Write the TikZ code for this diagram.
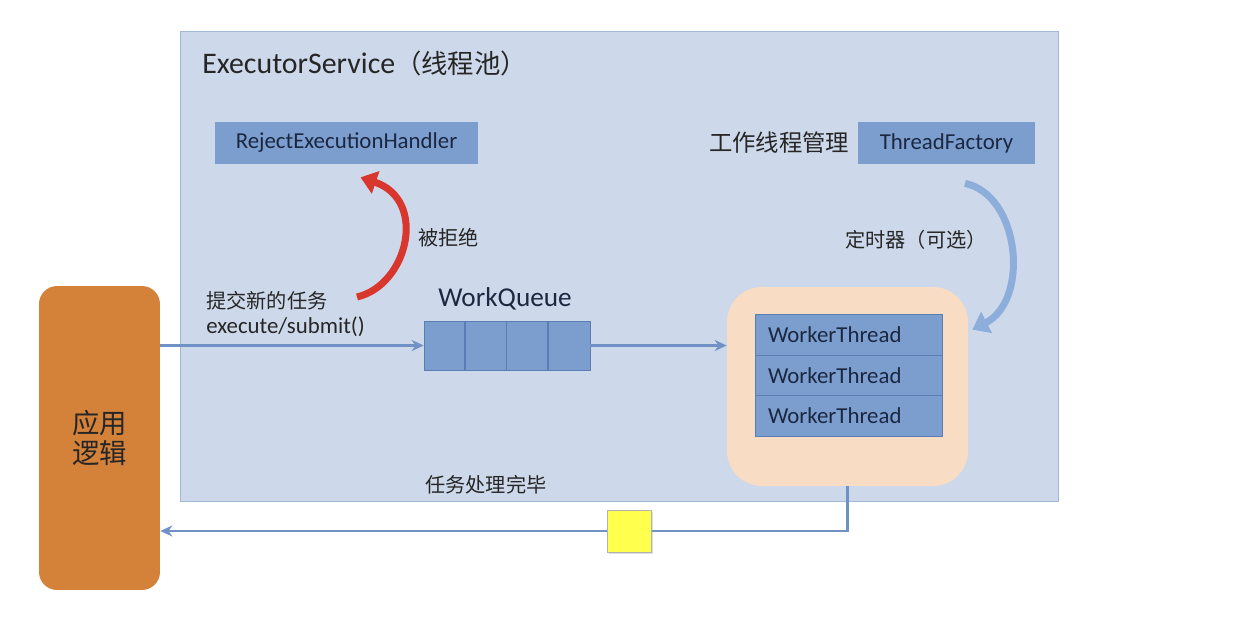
\documentclass[tikz,border=0pt]{standalone}
\usepackage{fontspec}
\setmainfont{Carlito}
\newfontfamily\cjk{Noto Sans CJK SC}
\usetikzlibrary{positioning,arrows.meta,shadows}
\definecolor{poolbg}{HTML}{CDD9EA}
\definecolor{poolline}{HTML}{A3B8D6}
\definecolor{boxblue}{HTML}{7B9ECF}
\definecolor{boxline}{HTML}{5A7DB3}
\definecolor{boxtext}{HTML}{1C2740}
\definecolor{flowblue}{HTML}{6F91C6}
\definecolor{peach}{HTML}{F9DCC4}
\definecolor{apporange}{HTML}{D4823A}
\definecolor{rejred}{HTML}{D9362E}
\definecolor{factblue}{HTML}{8DAEDB}
\definecolor{token}{HTML}{FFFF4D}
\definecolor{label}{HTML}{262626}

\begin{document}
\begin{tikzpicture}[x=0.02cm,y=-0.02cm,
  box/.style={fill=boxblue,text=boxtext,inner sep=0pt,font=\fontsize{13}{15}\selectfont},
  worker/.style={box,draw=boxline,minimum width=3.74cm,minimum height=0.814cm,
    text width=3.22cm,align=left,inner xsep=0.26cm},
  flow/.style={draw=flowblue,line width=1.3pt},
  note/.style={text=label,inner sep=0pt,font=\fontsize{11.5}{14}\selectfont\cjk},
  curlarrow/.style={line width=4pt,-{Triangle[width=0.46cm,length=0.32cm]}}]
\useasboundingbox (0,0) rectangle (1234,626);

% thread pool frame
\node[fill=poolbg,draw=poolline,line width=0.8pt,minimum width=17.56cm,minimum height=9.4cm,
  anchor=north west] (service) at (180,31) {};
\node[anchor=west,text=label,inner sep=0pt,font=\fontsize{17}{20}\selectfont] (title) at (202,63)
  {ExecutorService{\cjk\fontsize{15}{20}\selectfont（线程池）}};

\node[box,minimum width=5.26cm,minimum height=0.84cm] (reject) at (346.5,143) {RejectExecutionHandler};
\node[box,minimum width=3.54cm,minimum height=0.84cm] (factory) at (946.5,143) {ThreadFactory};
\node[note,font=\fontsize{13.3}{16}\selectfont\cjk,left=0.16cm of factory] (manage) {工作线程管理};

% work queue
\node[box,draw=boxline,minimum width=3.32cm,minimum height=0.98cm] (queue) at (507,345.5) {};
\foreach \i in {1,2,3}
  \draw[boxline,line width=0.8pt] ([xshift=\i*0.83cm]queue.north west) -- ([xshift=\i*0.83cm]queue.south west);
\node[text=boxtext,inner sep=0pt,font=\fontsize{15.5}{18}\selectfont] (qname) at (505,299) {WorkQueue};

% worker threads
\node[fill=peach,rounded corners=0.7cm,minimum width=4.82cm,minimum height=3.98cm] (pool) at (847.5,386.5) {};
\foreach \i/\y in {1/334.5,2/375.5,3/416}
  \node[worker] (worker\i) at (848.5,\y) {WorkerThread};

% application
\node[fill=apporange,rounded corners=0.36cm,minimum width=2.42cm,minimum height=6.08cm,
  align=center,text=black!85,font=\fontsize{15.6}{17.6}\selectfont\cjk] (app) at (99.5,438) {应用\\逻辑};

\node[note,anchor=west,align=left] (submit) at (206,314)
  {提交新的任务\\{\rmfamily\fontsize{13}{14}\selectfont execute/submit()}};
\node[note,anchor=west] (rejected) at (418,238) {被拒绝};
\node[note,anchor=west] (timer) at (845,240) {定时器（可选）};
\node[note,anchor=west] (done) at (425,485) {任务处理完毕};

% connectors
\draw[flow,-{Stealth[length=0.24cm,width=0.22cm]}] (app.east |- queue.west) -- (queue.west);
\draw[flow,-{Stealth[length=0.24cm,width=0.22cm]}] (queue.east) -- (queue.east -| pool.west);
\node[fill=token,draw=black!30,minimum width=0.88cm,minimum height=0.84cm,
  drop shadow={opacity=0.25,shadow xshift=1pt,shadow yshift=-1.2pt}] (item) at (629,531) {};
\draw[flow] (pool.south) |- (item.east);
\draw[flow,-{Stealth[length=0.24cm,width=0.22cm]}] (item.west) -- (item.west -| app.east);
\node[fill=token,draw=black!30,minimum width=0.88cm,minimum height=0.84cm] at (item) {};

\coordinate (rejfrom) at (357,297);
\draw[curlarrow,rejred] (rejfrom) .. controls (408,285) and (428,200) .. ([shift={(14,13)}]reject.south);
\draw[curlarrow,factblue] ([shift={(18.5,19)}]factory.south) .. controls (1020,195) and (1030,300) .. ([shift={(4,43)}]pool.north east);
\end{tikzpicture}
\end{document}
